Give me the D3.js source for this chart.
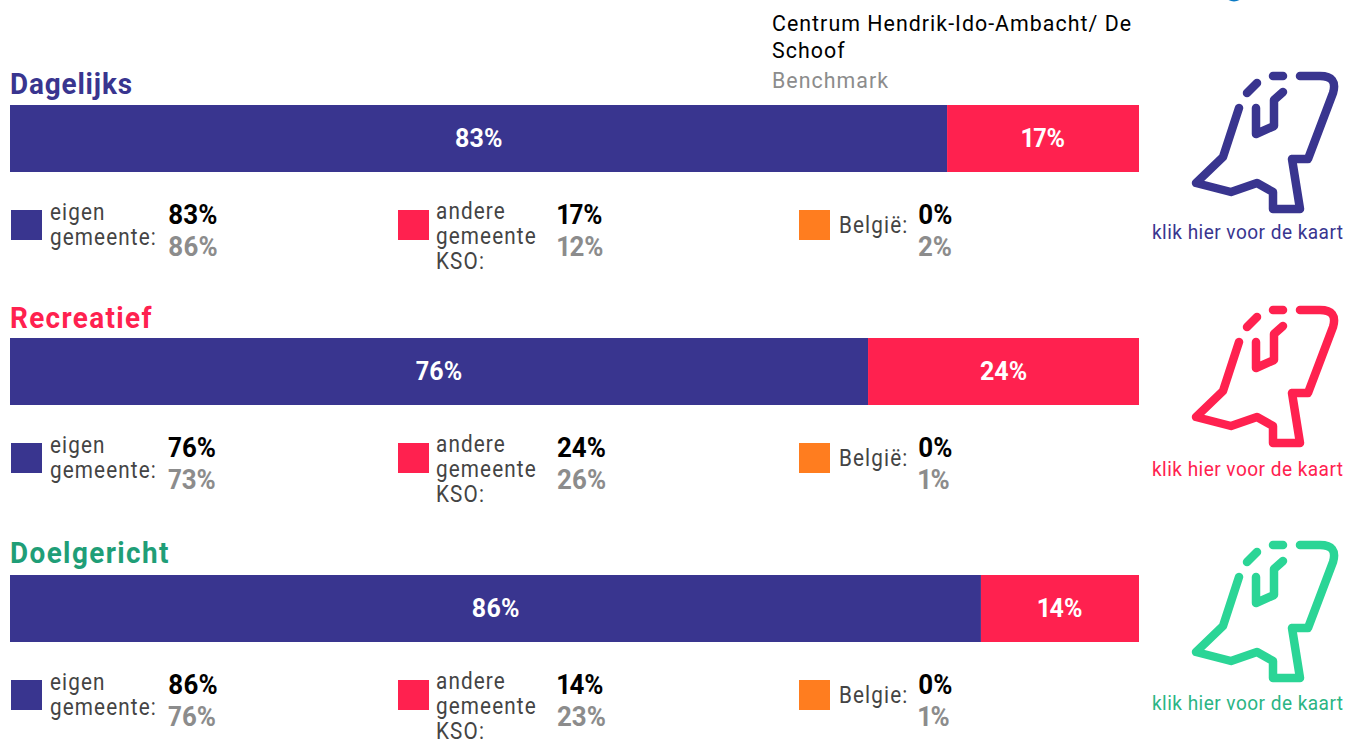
<!DOCTYPE html>
<html><head><meta charset="utf-8">
<script src="https://cdn.jsdelivr.net/npm/d3@7"></script>
<style>
html,body{margin:0;padding:0;background:#fff;overflow:hidden}
svg{display:block}
text{font-family:Roboto,sans-serif;font-variant-numeric:proportional-nums}
</style></head><body>
<svg id="c" width="1345" height="740"></svg>
<script>
const categories = ["Dagelijks","Recreatief","Doelgericht"];
const titleColors = ["#39358f","#ff214f","#1f9e77"];
const iconColors = ["#39358f","#ff214f","#2bd596"];
const linkColors = ["#39358f","#ff214f","#2bb584"];
const titleSpacing = [0.9,1.45,1.5];
const eigen = [83,76,86], eigenBench = [86,73,76];
const andere = [17,24,14], andereBench = [12,26,23];
const belgie = [0,0,0], belgieBench = [2,1,1];
const belgieLabels = ["België:","België:","Belgie:"];
const linkLabel = "klik hier voor de kaart";
const BLUE="#39358f", RED="#ff214f", ORANGE="#ff7d1f";

const layout = [
 {title:94, bar:105, dLeg:0, icon:0, link:239},
 {title:328, bar:338, dLeg:233, icon:234, link:476},
 {title:563, bar:575, dLeg:470, icon:469, link:710}
];
const svg = d3.select("#c");
const x = d3.scaleLinear().domain([0,100]).range([10,1139]);

function txt(g,xp,yp,s,size,fill,weight,ls,sx){
  return g.append("text").attr("transform",`translate(${xp},${yp}) scale(${sx||1},1)`).text(s)
    .attr("font-size",size).attr("fill",fill).attr("font-weight",weight||400)
    .attr("letter-spacing",ls||0);
}
// header
svg.append("circle").attr("cx",1234).attr("cy",-9).attr("r",10.5).attr("fill","#0a7ac4");
txt(svg,772,31,"Centrum Hendrik-Ido-Ambacht/ De",23,"#000",400,1.1,0.93);
txt(svg,772,58,"Schoof",23,"#000",400,1.1,0.93);
txt(svg,772,88,"Benchmark",23,"#8c8c8c",400,1.1,0.93);

const iconMain=[[99,108],[83,157],[56,183],[91,192],[117,183],[133,192],[133,209],[160,209],[152,159],[168,159],[193,93]];
const iconInner=[[116,108],[116,134],[134,126],[134,100],[143,92]];
const iconDash1=[[107,93],[117,83]];
const iconDash2=[[133,76],[143,76]];
const line=d3.line();

categories.forEach((c,i)=>{
  const L=layout[i], g=svg.append("g");
  txt(g,10,L.title,c,30,titleColors[i],700,titleSpacing[i],0.93);
  // bars
  g.append("rect").attr("x",x(0)).attr("y",L.bar).attr("width",x(eigen[i])-x(0)).attr("height",67).attr("fill",BLUE);
  g.append("rect").attr("x",x(eigen[i])).attr("y",L.bar).attr("width",x(100)-x(eigen[i])).attr("height",67).attr("fill",RED);
  txt(g,(x(0)+x(eigen[i]))/2,L.bar+42,eigen[i]+"%",25,"#fff",700).attr("text-anchor","middle");
  txt(g,(x(eigen[i])+x(100))/2,L.bar+42,andere[i]+"%",25,"#fff",700).attr("text-anchor","middle");
  // legend
  const d=L.dLeg;
  const lab="#444", lz=23, lls=1.25, lsx=0.9, nz=27, nsx=0.96;
  g.append("rect").attr("x",11).attr("y",210+d).attr("width",31).attr("height",30).attr("fill",BLUE);
  txt(g,50,220+d,"eigen",lz,lab,400,lls,lsx);
  txt(g,50,245+d,"gemeente:",lz,lab,400,lls,lsx);
  txt(g,168,224+d,eigen[i]+"%",nz,"#000",700,0,nsx);
  txt(g,168,256+d,eigenBench[i]+"%",nz,"#8c8c8c",700,0,nsx);

  g.append("rect").attr("x",398).attr("y",210+d).attr("width",31).attr("height",30).attr("fill",RED);
  txt(g,436,219+d,"andere",lz,lab,400,lls,lsx);
  txt(g,436,244+d,"gemeente",lz,lab,400,lls,lsx);
  txt(g,436,269+d,"KSO:",lz,lab,400,lls,lsx);
  txt(g,557,224+d,andere[i]+"%",nz,"#000",700,0,nsx);
  txt(g,557,256+d,andereBench[i]+"%",nz,"#8c8c8c",700,0,nsx);

  g.append("rect").attr("x",799).attr("y",210+d).attr("width",31).attr("height",30).attr("fill",ORANGE);
  txt(g,839,233+d,belgieLabels[i],lz,lab,400,lls,lsx);
  txt(g,918,224+d,belgie[i]+"%",nz,"#000",700,0,nsx);
  txt(g,918,256+d,belgieBench[i]+"%",nz,"#8c8c8c",700,0,nsx);

  // icon
  const ic=g.append("g").attr("transform",`translate(1140,${L.icon})`)
    .attr("fill","none").attr("stroke",iconColors[i]).attr("stroke-width",8.5)
    .attr("stroke-linecap","round").attr("stroke-linejoin","round");
  ic.append("path").attr("d",line(iconMain)+"Q198,76 180,76L160,76");
  ic.append("path").attr("d",line(iconInner));
  ic.append("path").attr("d",line(iconDash1));
  ic.append("path").attr("d",line(iconDash2));
  txt(g,1152,L.link,linkLabel,20.5,linkColors[i],400,0.5,0.93);
});
</script></body></html>
